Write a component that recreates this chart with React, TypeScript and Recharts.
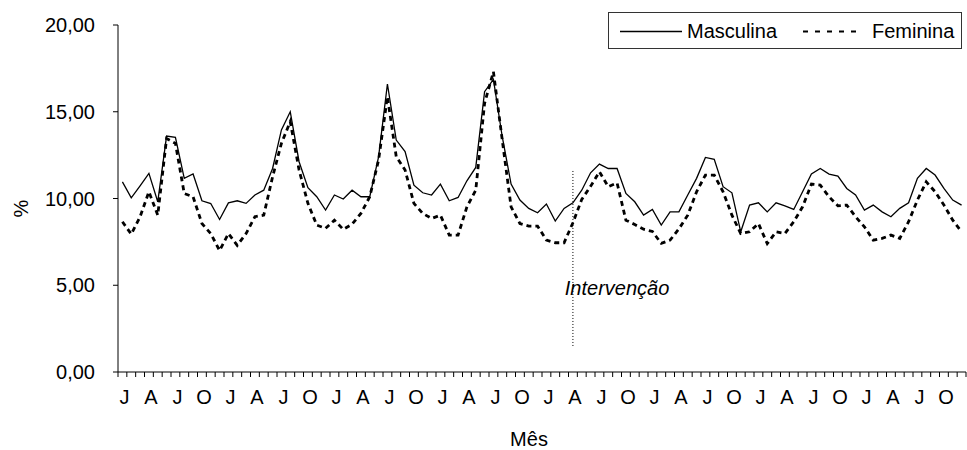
import React from 'react';
import {
  LineChart,
  Line,
  XAxis,
  YAxis,
  Legend,
  ReferenceLine,
  ReferenceDot,
  Label
} from 'recharts';

// monthly share (%), one value per month, 8 years starting in January
const MASCULINA = [
  10.96, 10.04, 10.73, 11.45, 9.81, 13.6, 13.52, 11.16, 11.41, 9.87, 9.71, 8.79,
  9.75, 9.87, 9.72, 10.2, 10.48, 11.73, 13.95, 15.0, 12.12, 10.62, 10.1, 9.33,
  10.2, 9.97, 10.48, 10.1, 10.1, 12.4, 16.6, 13.37, 12.7, 10.77, 10.33, 10.2,
  10.83, 9.87, 10.06, 11.02, 11.79, 16.16, 16.87, 13.56, 10.83, 9.91, 9.43, 9.18,
  9.68, 8.7, 9.43, 9.75, 10.48, 11.48, 11.98, 11.73, 11.73, 10.29, 9.81, 9.04,
  9.37, 8.47, 9.23, 9.23, 10.2, 11.16, 12.37, 12.26, 10.68, 10.33, 8.08, 9.62,
  9.75, 9.23, 9.75, 9.58, 9.37, 10.39, 11.41, 11.73, 11.41, 11.29, 10.58, 10.2,
  9.33, 9.62, 9.23, 8.95, 9.43, 9.75, 11.16, 11.73, 11.35, 10.58, 9.91, 9.62
];

const FEMININA = [
  8.66, 7.95, 8.95, 10.39, 9.04, 13.46, 13.18, 10.29, 10.1, 8.56, 7.98, 7.0,
  7.98, 7.3, 7.98, 8.95, 9.04, 11.25, 13.18, 14.43, 11.64, 9.72, 8.47, 8.28,
  8.75, 8.22, 8.52, 9.14, 10.1, 12.22, 15.87, 12.41, 11.64, 9.72, 9.14, 8.85,
  9.04, 7.89, 7.89, 9.52, 10.48, 15.49, 17.31, 13.37, 9.52, 8.56, 8.41, 8.41,
  7.6, 7.45, 7.45, 8.6, 9.95, 10.7, 11.54, 10.68, 10.9, 8.75, 8.5, 8.23,
  8.1, 7.41, 7.6, 8.25, 9.04, 10.39, 11.35, 11.35, 10.39, 9.04, 7.98, 8.08,
  8.56, 7.4, 8.08, 7.98, 8.66, 9.52, 10.83, 10.77, 10.1, 9.58, 9.62, 8.95,
  8.37, 7.6, 7.7, 7.89, 7.7, 8.66, 9.91, 10.96, 10.39, 9.62, 8.75, 8.08
];

const MONTH_INITIALS = ['J', 'F', 'M', 'A', 'M', 'J', 'J', 'A', 'S', 'O', 'N', 'D'];
const Y_TICKS = [0, 5, 10, 15, 20];
const INTERVENTION_MONTH = 51;

const data = MASCULINA.map((m, i) => ({
  idx: i,
  mes: MONTH_INITIALS[i % 12],
  masculina: m,
  feminina: FEMININA[i]
}));

const FONT = '"Liberation Sans", Arial, Helvetica, sans-serif';
const WIDTH = 967;
const HEIGHT = 450;
const Y_AXIS_W = 118;
const MARGIN = { top: 25, right: 1, left: 0, bottom: 0 };
const PLOT_W = WIDTH - Y_AXIS_W - MARGIN.left - MARGIN.right;
const HALF_STEP = PLOT_W / data.length / 2;

// tick marks sit between months, letters only on Jan/Apr/Jul/Oct
const MonthTick = (props: any) => {
  const { x, y, payload } = props;
  const i = payload.value;
  return (
    <g>
      <line x1={x - HALF_STEP} x2={x - HALF_STEP} y1={y} y2={y + 5} stroke="#000" />
      {i === data.length - 1 && (
        <line x1={x + HALF_STEP} x2={x + HALF_STEP} y1={y} y2={y + 5} stroke="#000" />
      )}
      {i % 3 === 0 && (
        <text x={x + 2} y={y + 32} textAnchor="middle" fontSize={20} fill="#000" fontFamily={FONT}>
          {data[i].mes}
        </text>
      )}
    </g>
  );
};

const LegendBox = () => (
  <svg width={355} height={38} style={{ display: 'block' }}>
    <rect x={0.5} y={0.5} width={353} height={36} fill="#fff" stroke="#333" />
    <line x1={12} x2={74} y1={19.5} y2={19.5} stroke="#000" strokeWidth={1.3} />
    <text x={79} y={26} fontSize={20} fontFamily={FONT} fill="#000">Masculina</text>
    <line x1={195} x2={250} y1={19.5} y2={19.5} stroke="#000" strokeWidth={2} strokeDasharray="5 7" />
    <text x={264} y={26} fontSize={20} fontFamily={FONT} fill="#000">Feminina</text>
  </svg>
);

export default function App() {
  const ticks = data.map(d => d.idx);

  return (
    <div style={{ position: 'absolute', left: 0, top: 0, width: WIDTH, height: HEIGHT, background: '#fff' }}>
      <LineChart width={WIDTH} height={HEIGHT} data={data} margin={MARGIN}>
        <XAxis
          dataKey="idx"
          type="number"
          domain={[-0.5, data.length - 0.5]}
          ticks={ticks}
          interval={0}
          height={78}
          tickSize={0}
          tickMargin={0}
          tickLine={false}
          axisLine={{ stroke: '#000' }}
          tick={<MonthTick />}
          label={
            <Label
              content={(p: any) => (
                <text
                  x={p.viewBox.x + p.viewBox.width / 2 - 13}
                  y={p.viewBox.y + 74}
                  textAnchor="middle"
                  fontSize={20}
                  fontFamily={FONT}
                  fill="#000"
                >
                  Mês
                </text>
              )}
            />
          }
        />
        <YAxis
          domain={[0, 20]}
          ticks={Y_TICKS}
          width={Y_AXIS_W}
          tickSize={5}
          tickMargin={18}
          axisLine={{ stroke: '#000' }}
          tickLine={{ stroke: '#000' }}
          tick={{ fill: '#000', fontSize: 20, fontFamily: FONT }}
          tickFormatter={(v: number) => v.toFixed(2).replace('.', ',')}
          label={
            <Label
              content={(p: any) => {
                const lx = p.viewBox.x + 28;
                const ly = p.viewBox.y + p.viewBox.height / 2 + 10;
                return (
                  <text
                    x={lx}
                    y={ly}
                    transform={`rotate(-90, ${lx}, ${ly})`}
                    textAnchor="middle"
                    fontSize={20}
                    fontFamily={FONT}
                    fill="#000"
                  >
                    %
                  </text>
                );
              }}
            />
          }
        />
        <Legend
          layout="vertical"
          align="center"
          verticalAlign="middle"
          content={() => <LegendBox />}
          wrapperStyle={{ position: 'absolute', left: 608, top: 12, width: 355, height: 38 }}
        />
        <ReferenceLine
          segment={[{ x: INTERVENTION_MONTH, y: 1.5 }, { x: INTERVENTION_MONTH, y: 11.65 }]}
          stroke="#000"
          strokeWidth={1}
          strokeDasharray="1 2"
        />
        <ReferenceDot
          x={INTERVENTION_MONTH + 5}
          y={4.83}
          r={0}
          fill="none"
          stroke="none"
          label={{ value: 'Intervenção', position: 'center', fontStyle: 'italic', fontSize: 20, fontFamily: FONT, fill: '#000' }}
        />
        <Line
          type="linear"
          dataKey="masculina"
          name="Masculina"
          stroke="#000"
          strokeWidth={1.3}
          dot={false}
          activeDot={false}
          isAnimationActive={false}
        />
        <Line
          type="linear"
          dataKey="feminina"
          name="Feminina"
          stroke="#000"
          strokeWidth={2.8}
          strokeDasharray="5 4"
          dot={false}
          activeDot={false}
          isAnimationActive={false}
        />
      </LineChart>
    </div>
  );
}
